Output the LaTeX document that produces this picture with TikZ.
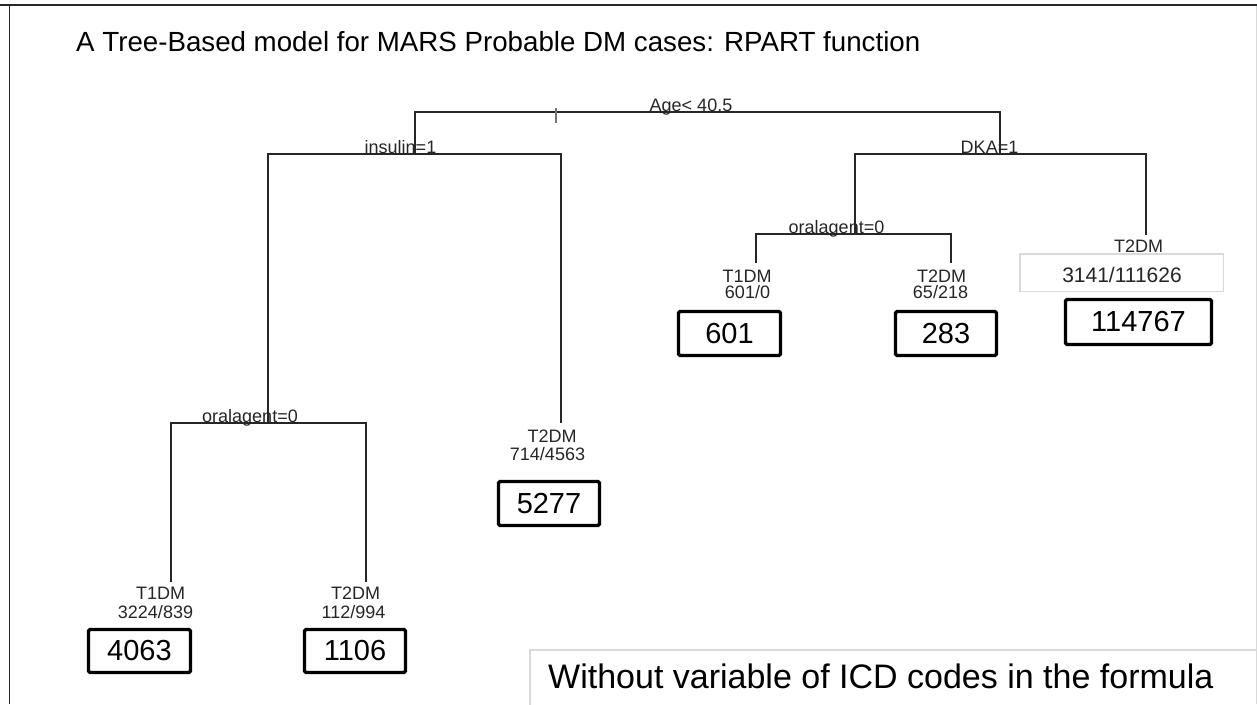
\documentclass[tikz,border=0pt]{standalone}
\usepackage{fontspec}
\setmainfont{Liberation Sans}
\begin{document}
\begin{tikzpicture}[x=1pt,y=-1pt,
  treeline/.style={draw=black!85,line width=1.4pt},
  splitlab/.style={inner sep=0pt,anchor=base,text=black!85,font=\fontsize{18}{18}\selectfont},
  leaflab/.style={inner sep=0pt,anchor=base,text=black!85,font=\fontsize{18}{18}\selectfont},
  countbox/.style={draw=black,line width=3.3pt,rounded corners=1.5pt,inner sep=0pt,
    minimum height=43pt,font=\fontsize{29}{29}\selectfont},
  graybox/.style={draw=black!15,line width=1.5pt,inner sep=0pt}]
\useasboundingbox (0,0) rectangle (1257,704);
\fill[white] (0,0) rectangle (1257,704);

% frame
\coordinate (fTL) at (0,5);
\coordinate (fTR) at (1257,5);
\coordinate (fLT) at (9.5,5);
\coordinate (fLB) at (9.5,704);
\coordinate (fRT) at (1256,5);
\coordinate (fRB) at (1256,704);
\draw[black!15,line width=1pt] (fRT) -- (fRB);
\draw[black!85,line width=1.6pt] (fLT) -- (fLB);
\draw[black!85,line width=2.2pt] (fTL) -- (fTR);

% title
\node[inner sep=0pt,anchor=base west,font=\fontsize{27.7}{28}\selectfont] (title) at (76,51)
  {A Tree-Based model for MARS Probable DM cases: RPART function};

% tree corners
\coordinate (a1) at (415,112);  \coordinate (a2) at (1000,112);
\coordinate (i0) at (415,154);  \coordinate (i1) at (268,154);  \coordinate (i2) at (561,154);
\coordinate (d0) at (1000,154); \coordinate (d1) at (855,154);  \coordinate (d2) at (1146,154);
\coordinate (o0) at (268,423);  \coordinate (o1) at (171,423);  \coordinate (o2) at (366,423);
\coordinate (r0) at (855,234);  \coordinate (r1) at (756,234);  \coordinate (r2) at (951,234);
\coordinate (l1) at (171,582);  \coordinate (l2) at (366,582);  \coordinate (l3) at (561,423);
\coordinate (l4) at (756,263);  \coordinate (l5) at (951,263);  \coordinate (l6) at (1146,235);
\coordinate (tk1) at (556,108); \coordinate (tk2) at (556,123);

\draw[treeline] (i0) -- (a1) -- (a2) -- (d0);
\draw[treeline] (o0) -- (i1) -- (i2) -- (l3);
\draw[treeline] (i1) -- (i0);
\draw[treeline] (r0) -- (d1) -- (d2) -- (l6);
\draw[treeline] (l1) -- (o1) -- (o2) -- (l2);
\draw[treeline] (l4) -- (r1) -- (r2) -- (l5);
\draw[black!55,line width=1.6pt] (tk1) -- (tk2);

% split labels
\node[splitlab] (sAge) at (691,111) {Age< 40.5};
\node[splitlab] (sIns) at (400.5,153) {insulin=1};
\node[splitlab] (sDka) at (989.5,153) {DKA=1};
\node[splitlab] (sOraL) at (250,422) {oralagent=0};
\node[splitlab] (sOraR) at (836.5,233) {oralagent=0};

% leaf labels
\node[leaflab] (c1) at (160.5,599) {T1DM};
\node[leaflab] (n1) at (155.5,618) {3224/839};
\node[leaflab] (c2) at (355.5,599) {T2DM};
\node[leaflab] (n2) at (353.5,618) {112/994};
\node[leaflab] (c3) at (552,442) {T2DM};
\node[leaflab] (n3) at (547.5,460) {714/4563};
\node[leaflab] (c4) at (747,282) {T1DM};
\node[leaflab] (n4) at (747.5,298) {601/0};
\node[leaflab] (c5) at (941.5,282) {T2DM};
\node[leaflab] (n5) at (940.5,298) {65/218};
\node[leaflab] (c6) at (1138.5,252.5) {T2DM};
\node[graybox,minimum width=203.5pt,minimum height=37.5pt] (g6) at (1121.5,272.5) {};
\node[leaflab,font=\fontsize{21}{21}\selectfont] (n6) at (1122,282) {3141/111626};

% count boxes
\node[countbox,minimum width=102pt] (b1) at (139.5,651) {4063};
\node[countbox,minimum width=101pt] (b2) at (355,651) {1106};
\node[countbox,minimum width=101pt,minimum height=44pt] (b3) at (549,503.5) {5277};
\node[countbox,minimum width=102pt,minimum height=44pt] (b4) at (729.5,333.5) {601};
\node[countbox,minimum width=101pt,minimum height=44pt] (b5) at (946,333.5) {283};
\node[countbox,minimum width=146pt,minimum height=45pt] (b6) at (1138.5,322) {114767};

% note box
\coordinate (nTL) at (530,650);
\coordinate (nBR) at (1265,712);
\draw[graybox] (nTL) rectangle (nBR);
\node[inner sep=0pt,anchor=base west,font=\fontsize{34}{34}\selectfont] (note) at (548,688)
  {Without variable of ICD codes in the formula};
\end{tikzpicture}
\end{document}
